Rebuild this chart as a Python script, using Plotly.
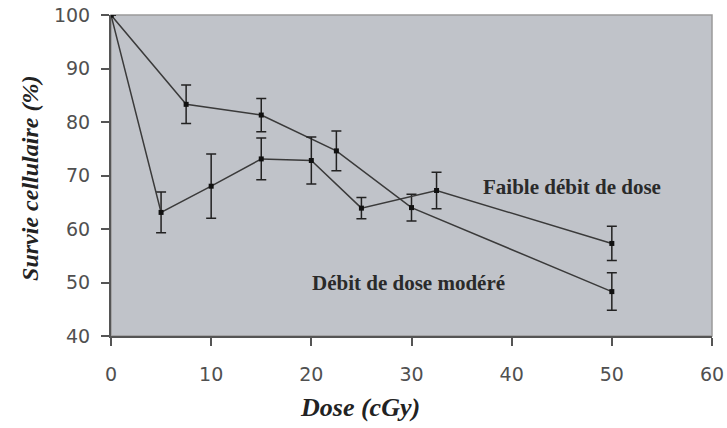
import plotly.graph_objects as go

# Series: dose increments of 7.5 cGy
dose_a = [0, 7.5, 15, 22.5, 30, 50]
surv_a = [100, 83.3, 81.3, 74.6, 64.0, 48.3]
err_a = [0, 3.6, 3.1, 3.7, 2.5, 3.5]

# Series: dose increments of 5 cGy
dose_b = [0, 5, 10, 15, 20, 25, 32.5, 50]
surv_b = [100, 63.1, 68.0, 73.1, 72.8, 63.9, 67.2, 57.3]
err_b = [0, 3.8, 6.0, 3.9, 4.4, 2.0, 3.4, 3.2]

x_ticks = [0, 10, 20, 30, 40, 50, 60]
y_ticks = [40, 50, 60, 70, 80, 90, 100]

line_col = "#3a3a3a"

fig = go.Figure()
for xs, ys, es in [(dose_a, surv_a, err_a), (dose_b, surv_b, err_b)]:
    fig.add_trace(go.Scatter(
        x=xs, y=ys, mode="lines+markers",
        line=dict(color=line_col, width=1.5),
        marker=dict(color="#111111", size=5, symbol="square"),
        error_y=dict(type="data", array=es, visible=True, color="#222222",
                     thickness=1.5, width=5),
        showlegend=False,
    ))

fig.add_annotation(x=46.0, y=67.8, text="<b>Faible débit de dose</b>", showarrow=False,
                   font=dict(family="Liberation Serif", size=21, color="#2a2a2a"))
fig.add_annotation(x=29.7, y=49.9, text="<b>Débit de dose modéré</b>", showarrow=False,
                   font=dict(family="Liberation Serif", size=21, color="#2a2a2a"))

# axis titles (placed as paper annotations to match the original positions)
fig.add_annotation(xref="paper", yref="paper", x=0.414, y=-0.224,
                   text="<b><i>Dose (cGy)</i></b>", showarrow=False,
                   xanchor="center", yanchor="middle",
                   font=dict(family="Liberation Serif", size=26, color="#222222"))
fig.add_annotation(xref="paper", yref="paper", x=-0.135, y=0.492,
                   text="<b><i>Survie cellulaire (%)</i></b>", showarrow=False,
                   textangle=-90, xanchor="center", yanchor="middle",
                   font=dict(family="Liberation Serif", size=24, color="#222222"))

fig.update_layout(
    width=727, height=428,
    margin=dict(l=111, r=15, t=15, b=92, autoexpand=False),
    paper_bgcolor="white", plot_bgcolor="#c0c3c9",
    xaxis=dict(range=[0, 60], tickvals=x_ticks, showgrid=False, zeroline=False,
               automargin=False, ticklabeloverflow="allow",
               showline=True, linecolor="#555555", linewidth=2,
               ticks="outside", ticklen=8, tickcolor="#555555", tickwidth=1.5,
               ticklabelstandoff=12,
               tickfont=dict(family="DejaVu Sans", size=19, color="#505050")),
    yaxis=dict(range=[40, 100], tickvals=y_ticks, showgrid=False, zeroline=False,
               automargin=False, ticklabeloverflow="allow",
               showline=True, linecolor="#555555", linewidth=2,
               ticks="outside", ticklen=8, tickcolor="#555555", tickwidth=1.5,
               ticklabelstandoff=7,
               tickfont=dict(family="DejaVu Sans", size=19, color="#505050")),
    shapes=[dict(type="rect", xref="paper", yref="paper", x0=0, x1=1, y0=0, y1=1,
                 line=dict(color="#9a9a9a", width=1.5), layer="below")],
)

fig.write_html("out.html", config={"displayModeBar": False},
               post_script="document.body.style.margin='0px';")
